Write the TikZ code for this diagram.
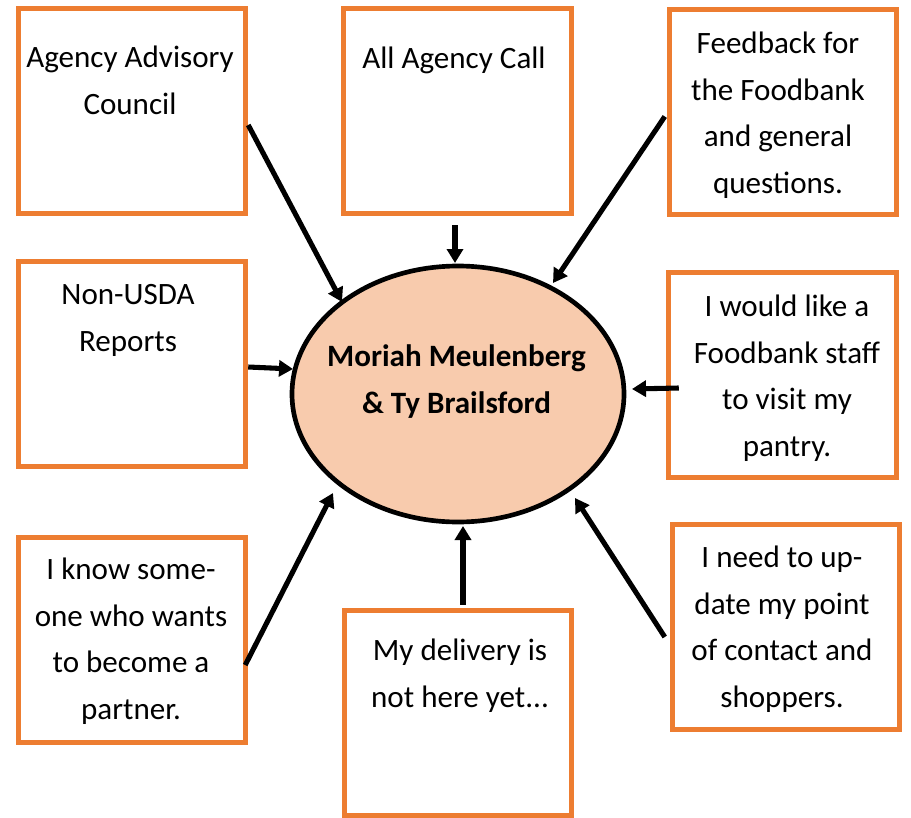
\documentclass[tikz,border=0pt]{standalone}
\usepackage{fontspec}
\setmainfont{Carlito}
\usetikzlibrary{arrows.meta,calc,shapes.geometric}
\definecolor{boxorange}{HTML}{ED7D31}
\definecolor{peach}{HTML}{F8CBAD}
\begin{document}
\begin{tikzpicture}
  [x=0.75pt,y=-0.75pt,
   orbox/.style={draw=boxorange,line width=3.75pt,minimum width=170.6pt,minimum height=153.75pt,inner sep=0pt},
   txt/.style={anchor=base,align=center,inner sep=0pt,font=\fontsize{23.3}{34.9}\selectfont},
   arr/.style={line width=3.8pt,-{Triangle[length=10.5pt,width=12pt]}}]

  \useasboundingbox (0,0) rectangle (911,818);

  \node[orbox] (council)  at (132,111)     {};
  \node[orbox] (call)     at (457.5,111)   {};
  \node[orbox] (feedback) at (783,111.5)   {};
  \node[orbox] (nonusda)  at (132,364)     {};
  \node[orbox] (visit)    at (782.5,374.5) {};
  \node[orbox] (partner)  at (132,640)     {};
  \node[orbox] (delivery) at (458,713)     {};
  \node[orbox] (update)   at (786,627)     {};

  \node[ellipse,draw,line width=3.5pt,fill=peach,minimum width=249pt,minimum height=192pt] (hub) at (458,394) {};

  % base of each text is its last line
  \node[txt] (council-t)  at (130,114.5) {Agency Advisory\\Council};
  \node[txt] (call-t)     at (454,68)    {All Agency Call};
  \node[txt] (feedback-t) at (778,193.5) {Feedback for\\the Foodbank\\and general\\questions.};
  \node[txt] (nonusda-t)  at (128,351.5) {Non-USDA\\Reports};
  \node[txt] (visit-t)    at (787,456.5) {I would like a\\Foodbank staff\\to visit my\\pantry.};
  \node[txt] (partner-t)  at (131,719.5) {I know some-\\one who wants\\to become a\\partner.};
  \node[txt] (delivery-t) at (460,707.5) {My delivery is\\not here yet...};
  \node[txt] (update-t)   at (782,707.5) {I need to up-\\date my point\\of contact and\\shoppers.};
  \node[txt,font=\fontsize{23.3}{34.9}\selectfont\bfseries] (hub-t) at (456.5,413.5) {Moriah Meulenberg\\\& Ty Brailsford};

  % arrows into the hub
  \draw[arr] ($(council.east)+(0,14)$)    -- ($(hub)+(-116,-92)$);
  \draw[arr] ($(call.south)+(-2.5,9)$)    -- ($(hub)+(-3,-131)$);
  \draw[arr] ($(feedback.west)+(-2,5)$)   -- ($(hub)+(95,-111)$);
  \draw[arr] ($(nonusda.east)+(0,3)$)     -- ($(hub)+(-165,-25)$);
  \draw[arr] ($(visit.west)+(12.5,13.5)$) -- ($(hub)+(174,-5)$);
  \draw[arr] ($(partner.east)+(-3,25)$)   -- ($(hub)+(-125,99)$);
  \draw[arr] ($(delivery.north)+(5,-3.5)$) -- ($(hub)+(5,132)$);
  \draw[arr] ($(update.west)+(-5,10)$)    -- ($(hub)+(117,104)$);
\end{tikzpicture}
\end{document}
